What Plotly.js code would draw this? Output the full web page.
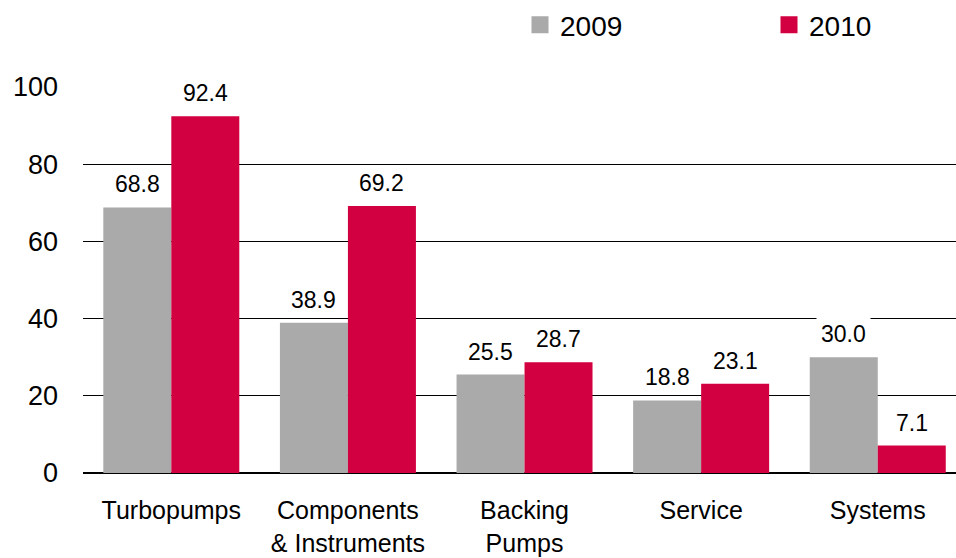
<!DOCTYPE html>
<html>
<head>
<meta charset="utf-8">
<script src="https://cdn.plot.ly/plotly-3.0.1.min.js"></script>
<style>html,body{margin:0;padding:0;background:#fff;}#chart{width:956px;height:558px;}</style>
</head>
<body>
<div id="chart"></div>
<script>
const categories = ["Turbopumps", "Components<br>& Instruments", "Backing<br>Pumps", "Service", "Systems"];
const values2009 = [68.8, 38.9, 25.5, 18.8, 30.0];
const values2010 = [92.4, 69.2, 28.7, 23.1, 7.1];
const seriesNames = ["2009", "2010"];
const yTicks = [0, 20, 40, 60, 80, 100];

const gray = "#AAAAAA";
const red = "#D20040";
const FONT = "Liberation Sans, Arial, sans-serif";

const traces = [
  {type: "bar", x: categories, y: values2009, name: seriesNames[0], marker: {color: gray}, showlegend: false, hoverinfo: "none"},
  {type: "bar", x: categories, y: values2010, name: seriesNames[1], marker: {color: red}, showlegend: false, hoverinfo: "none"},
  // legend entries (hidden axes, no marks)
  {type: "bar", x: [null], y: [null], xaxis: "x2", yaxis: "y2", name: seriesNames[0], marker: {color: gray, line: {color: gray, width: 5}}},
  {type: "bar", x: [null], y: [null], xaxis: "x2", yaxis: "y2", name: seriesNames[1], marker: {color: red, line: {color: red, width: 5}}}
];

const annotations = [];
const fmt = v => v.toFixed(1);
categories.forEach((c, i) => {
  [[values2009, -34], [values2010, 34]].forEach(([arr, dx]) => {
    annotations.push({
      x: c, y: arr[i], xref: "x", yref: "y", xshift: dx, yshift: 5,
      text: fmt(arr[i]), showarrow: false, yanchor: "bottom",
      bgcolor: "#FFFFFF", borderpad: 4,
      font: {family: FONT, size: 23, color: "#000"}
    });
  });
});

const layout = {
  width: 956, height: 558,
  margin: {l: 83, r: 0, t: 87, b: 85},
  paper_bgcolor: "#fff", plot_bgcolor: "#fff",
  barmode: "group", bargap: 0.23, bargroupgap: 0,
  font: {family: FONT, color: "#000"},
  xaxis: {
    type: "category", range: [-0.5, 4.443], showgrid: false, zeroline: false,
    showline: false, ticks: "", ticklabelstandoff: 20,
    tickfont: {family: FONT, size: 25, color: "#000"}
  },
  yaxis: {
    range: [0, 100], tickvals: yTicks, ticktext: yTicks.map(String),
    showgrid: true, gridcolor: "#000", gridwidth: 1,
    zeroline: true, zerolinecolor: "#000", zerolinewidth: 1.5,
    showline: false, ticks: "", ticklabelstandoff: 24,
    tickfont: {family: FONT, size: 27, color: "#000"}
  },
  xaxis2: {visible: false, overlaying: "x", range: [0, 1]},
  yaxis2: {visible: false, overlaying: "y", range: [0, 1]},
  showlegend: true,
  legend: {
    orientation: "h", x: 520 / 956, xanchor: "left", y: 1, yanchor: "top",
    xref: "container", yref: "container",
    entrywidth: 204, entrywidthmode: "pixels",
    font: {family: FONT, size: 28, color: "#000"},
    bgcolor: "rgba(0,0,0,0)", borderwidth: 0, itemclick: false, itemdoubleclick: false
  },
  annotations: annotations
};

Plotly.newPlot("chart", traces, layout, {staticPlot: true, displayModeBar: false});
</script>
</body>
</html>
